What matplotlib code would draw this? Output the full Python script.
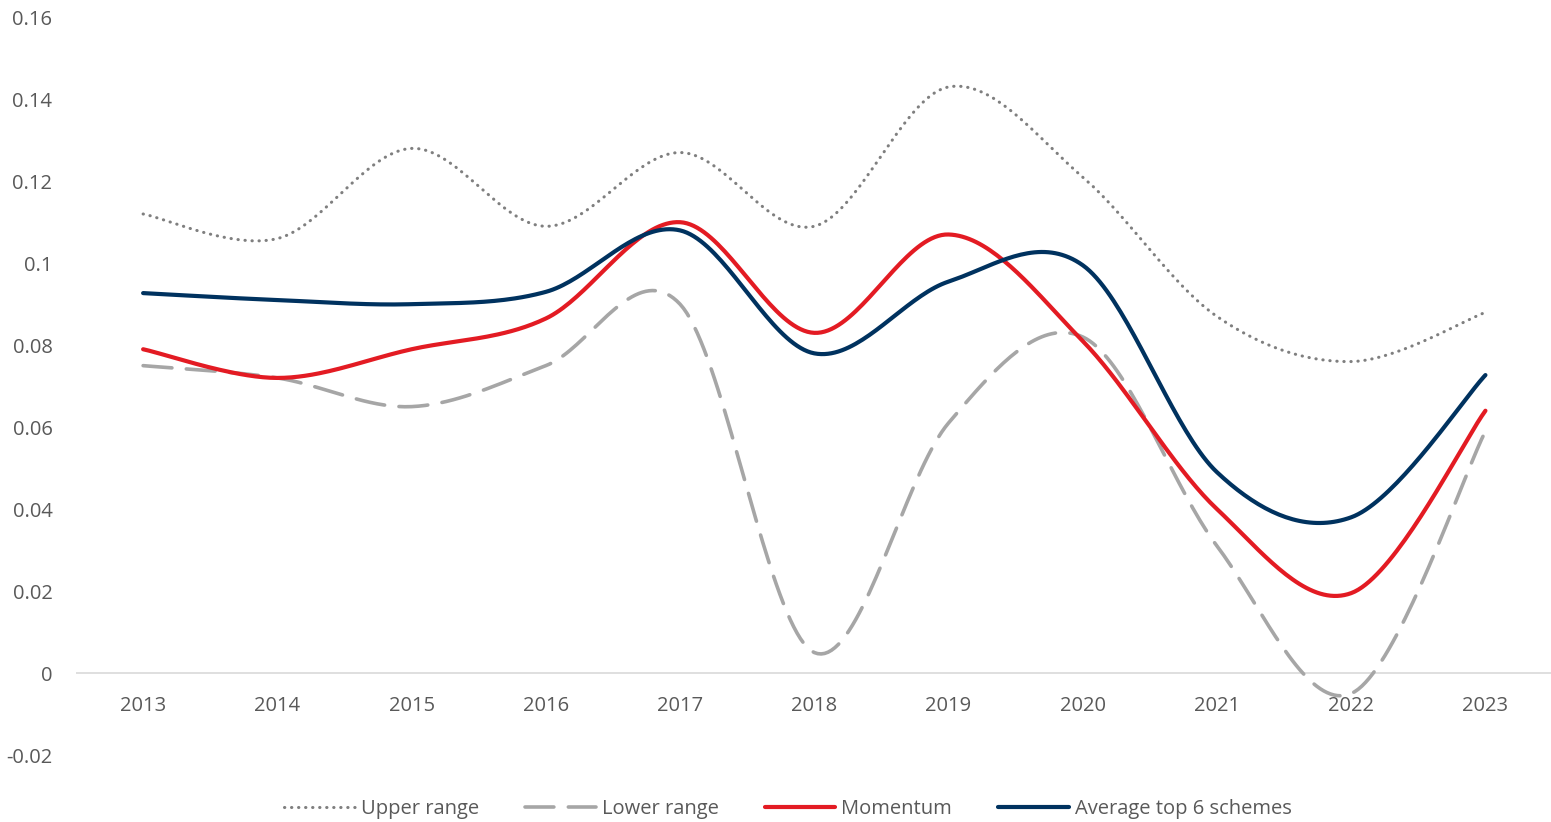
import numpy as np
import matplotlib
matplotlib.use("Agg")
import matplotlib.pyplot as plt

years = ["2013", "2014", "2015", "2016", "2017", "2018", "2019", "2020", "2021", "2022", "2023"]
upper_range = [0.112, 0.106, 0.128, 0.109, 0.127, 0.109, 0.143, 0.121, 0.087, 0.076, 0.088]
lower_range = [0.075, 0.072, 0.065, 0.075, 0.090, 0.005, 0.061, 0.082, 0.031, -0.005, 0.059]
momentum = [0.079, 0.072, 0.079, 0.0865, 0.110, 0.083, 0.107, 0.081, 0.040, 0.0195, 0.064]
average_top6 = [0.0927, 0.091, 0.090, 0.093, 0.108, 0.078, 0.0955, 0.0995, 0.049, 0.038, 0.0727]


def smooth(xs, ys, n=40):
    # Excel-style smoothed line: cubic Bezier with Catmull-Rom tangents
    xs = np.asarray(xs, float)
    ys = np.asarray(ys, float)
    px = np.concatenate([[xs[0]], xs, [xs[-1]]])
    py = np.concatenate([[ys[0]], ys, [ys[-1]]])
    out_x, out_y = [], []
    t = np.linspace(0, 1, n)
    for i in range(1, len(px) - 2):
        p0x, p1x, p2x, p3x = px[i - 1], px[i], px[i + 1], px[i + 2]
        p0y, p1y, p2y, p3y = py[i - 1], py[i], py[i + 1], py[i + 2]
        c1x = p1x + (p2x - p0x) / 6
        c1y = p1y + (p2y - p0y) / 6
        c2x = p2x - (p3x - p1x) / 6
        c2y = p2y - (p3y - p1y) / 6
        bx = (1 - t) ** 3 * p1x + 3 * (1 - t) ** 2 * t * c1x + 3 * (1 - t) * t ** 2 * c2x + t ** 3 * p2x
        by = (1 - t) ** 3 * p1y + 3 * (1 - t) ** 2 * t * c1y + 3 * (1 - t) * t ** 2 * c2y + t ** 3 * p2y
        out_x.extend(bx)
        out_y.extend(by)
    return np.array(out_x), np.array(out_y)


plt.rcParams['font.family'] = ['Open Sans', 'DejaVu Sans']
text_color = '#595959'
fs = 14.5

fig = plt.figure(figsize=(15.51, 8.22), dpi=100)
ax = fig.add_axes([0.049, 0.0815, 0.952, 0.8975])

x = np.arange(len(years))

c_upper = '#7f7f7f'
c_lower = '#a6a6a6'
c_mom = '#e31b23'
c_avg = '#00325f'

sx, sy = smooth(x, upper_range)
ax.plot(sx, sy, color=c_upper, lw=2.2, linestyle=(0, (0.1, 2.2)), dash_capstyle='round', label='Upper range')
sx, sy = smooth(x, lower_range)
ax.plot(sx, sy, color=c_lower, lw=2.6, linestyle=(0, (8, 4)), dash_capstyle='round', label='Lower range')
sx, sy = smooth(x, momentum)
ax.plot(sx, sy, color=c_mom, lw=3.0, solid_capstyle='round', label='Momentum')
sx, sy = smooth(x, average_top6)
ax.plot(sx, sy, color=c_avg, lw=3.0, solid_capstyle='round', label='Average top 6 schemes')

ax.axhline(0, color='#d9d9d9', lw=1.2, zorder=0)

ax.set_xlim(-0.5, len(years) - 0.5)
ax.set_ylim(-0.02, 0.16)
yt = np.arange(-0.02, 0.1601, 0.02)
ax.set_yticks(yt)
ax.set_yticklabels(['-0.02', '0', '0.02', '0.04', '0.06', '0.08', '0.1', '0.12', '0.14', '0.16'])
ax.tick_params(axis='y', length=0, labelsize=fs, labelcolor=text_color, pad=17)
ax.set_xticks([])
for xi, yr in zip(x, years):
    ax.text(xi, -0.008, yr, ha='center', va='center', fontsize=fs, color=text_color)

for s in ax.spines.values():
    s.set_visible(False)

handles, labels = ax.get_legend_handles_labels()
leg = fig.legend(handles, labels, loc='center', bbox_to_anchor=(0.508, 0.016), ncol=4, frameon=False,
                 fontsize=fs, handlelength=3.5, columnspacing=2.3, handletextpad=0.3)
for t in leg.get_texts():
    t.set_color(text_color)

fig.savefig('out.png', dpi=100)
